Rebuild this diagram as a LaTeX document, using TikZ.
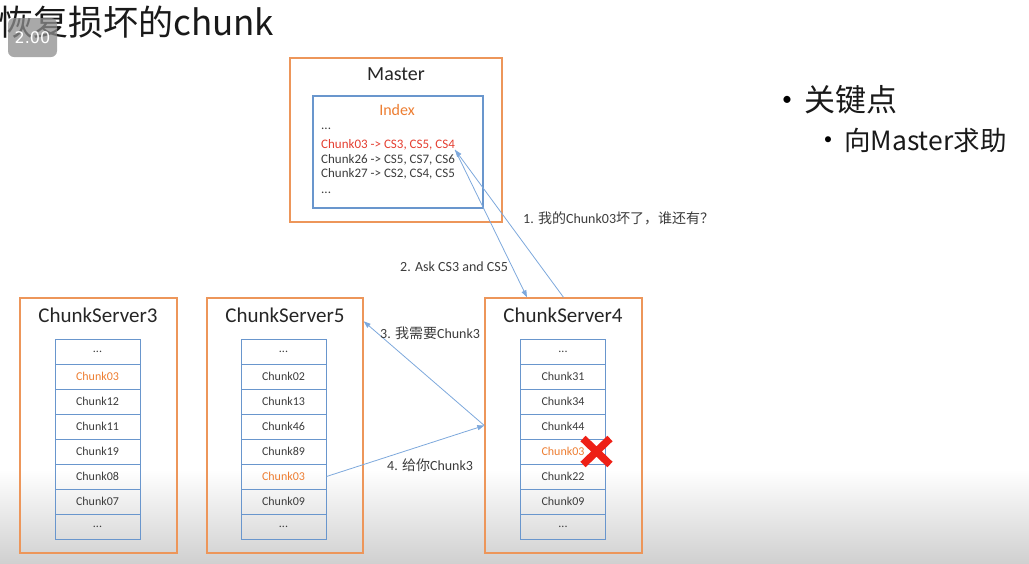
\documentclass[tikz,border=0pt]{standalone}
\usepackage{fontspec}
\setmainfont{Carlito}
\newfontfamily\cjk{Noto Sans CJK SC}
\newfontfamily\badgefont{DejaVu Sans}
\usetikzlibrary{arrows.meta,calc}

\definecolor{boxorange}{RGB}{237,150,90}
\definecolor{cellblue}{RGB}{105,150,205}
\definecolor{arrowblue}{RGB}{125,168,220}
\definecolor{chunkorange}{RGB}{237,125,49}
\definecolor{hotred}{RGB}{228,62,48}
\definecolor{ink}{RGB}{60,60,60}
\definecolor{xred}{RGB}{238,32,22}

\newcommand\setfs[1]{\fontsize{#1}{#1}\selectfont}
\newcommand\morerows{...}

% one column of chunk cells: name prefix, centre x, list of text/colour
\newcommand\chunkstack[3]{%
  \foreach \txt/\col [count=\i] in {#3} {%
    \node[cell, text=\col] (#1c\i) at (#2, {326.5+25*\i}) {\txt};
  }%
}

\begin{document}
\begin{tikzpicture}[x=1pt, y=-1pt,
  server/.style={draw=boxorange, line width=1.4pt, inner sep=0pt},
  indexbox/.style={draw=cellblue, line width=1.3pt, inner sep=0pt},
  cell/.style={draw=cellblue, line width=1pt, minimum width=85pt,
               minimum height=25pt, inner sep=0pt, font=\setfs{12}},
  srvtitle/.style={inner sep=0pt, text=black!85, font=\setfs{21}},
  idxline/.style={anchor=base west, inner sep=0pt, font=\setfs{13}, text=ink},
  msg/.style={anchor=west, inner sep=0pt, font=\setfs{14}, text=ink},
  flow/.style={draw=arrowblue, line width=0.8pt,
               -{Triangle[length=7pt, width=5pt, fill=arrowblue]}},
]
\useasboundingbox (0,0) rectangle (1029,563);

% soft grey band along the bottom edge
\shade[top color=white, bottom color={rgb,255:red,208;green,208;blue,208}]
  (0,470) rectangle (1029,563);

% heading
\node[anchor=base west, inner sep=0pt, text=black!90] (title) at (-2,35)
  {\cjk\setfs{35}恢复损坏的chunk};

% playback-speed badge
\node[fill=black!45, fill opacity=0.75, text opacity=1, text=white,
      rounded corners=6pt, minimum width=49pt, minimum height=39pt,
      inner sep=0pt, font=\badgefont\setfs{16}] (badge) at (32.5,37.5) {2.00};

% key points
\node[inner sep=0pt, font=\setfs{20}] (b1) at (787,101) {•};
\node[anchor=west, inner sep=0pt, text=black!90] (k1) at (804,100)
  {\cjk\setfs{31}关键点};
\node[inner sep=0pt, font=\setfs{17}] (b2) at (828,141) {•};
\node[anchor=west, inner sep=0pt, text=black!90] (k2) at (844,140)
  {\cjk\setfs{26.5}向Master求助};

% master with its index
\node[server, minimum width=212pt, minimum height=164pt] (master) at (396,140) {};
\node[srvtitle, font=\setfs{20}] (mtitle) at (396,74) {Master};
\node[indexbox, minimum width=170pt, minimum height=112pt] (index) at (398,152) {};
\node[inner sep=0pt, font=\setfs{16}, text=chunkorange] (ititle) at (397,110) {Index};
\node[idxline] (r0) at (321,129) {...};
\node[idxline, text=hotred] (r1) at (321,148) {Chunk03 -> CS3, CS5, CS4};
\node[idxline] (r2) at (321,163) {Chunk26 -> CS5, CS7, CS6};
\node[idxline] (r3) at (321,177) {Chunk27 -> CS2, CS4, CS5};
\node[idxline] (r4) at (321,193) {...};

% chunk servers
\node[server, minimum width=157pt, minimum height=255pt] (cs3) at (98.5,425.5) {};
\node[server, minimum width=156pt, minimum height=255pt] (cs5) at (285,425.5) {};
\node[server, minimum width=157pt, minimum height=255pt] (cs4) at (563.5,425.5) {};
\node[srvtitle] (t3) at (98,315) {ChunkServer3};
\node[srvtitle] (t5) at (285,315) {ChunkServer5};
\node[srvtitle] (t4) at (563,315) {ChunkServer4};

\chunkstack{cs3}{97.5}{\morerows/ink, Chunk03/chunkorange, Chunk12/ink, Chunk11/ink,
  Chunk19/ink, Chunk08/ink, Chunk07/ink, \morerows/ink}
\chunkstack{cs5}{283.5}{\morerows/ink, Chunk02/ink, Chunk13/ink, Chunk46/ink,
  Chunk89/ink, Chunk03/chunkorange, Chunk09/ink, \morerows/ink}
\chunkstack{cs4}{563}{\morerows/ink, Chunk31/ink, Chunk34/ink, Chunk44/ink,
  Chunk03/chunkorange, Chunk22/ink, Chunk09/ink, \morerows/ink}

% damaged replica mark
\draw[xred, line width=7.5pt]
  ($(cs4c5.east)+(-23,-13)$) -- ($(cs4c5.east)+(4,13)$)
  ($(cs4c5.east)+(4,-13)$) -- ($(cs4c5.east)+(-23,13)$);

% message flow
\draw[flow] (cs4.north) -- (r1.south east);
\draw[flow] (r1.south east) -- ([xshift=-36.5pt]cs4.north);
\draw[flow] (cs4.west) -- ([yshift=-24pt]cs5.north east);
\draw[flow] (cs5c6.east) -- (cs4.west);

\node[msg] (m1) at (523,218) {1. {\cjk 我的}Chunk03{\cjk 坏了，谁还有？}};
\node[msg] (m2) at (400,267) {2. Ask CS3 and CS5};
\node[msg] (m3) at (380,333) {3. {\cjk 我需要}Chunk3};
\node[msg] (m4) at (387,465) {4. {\cjk 给你}Chunk3};
\end{tikzpicture}
\end{document}
